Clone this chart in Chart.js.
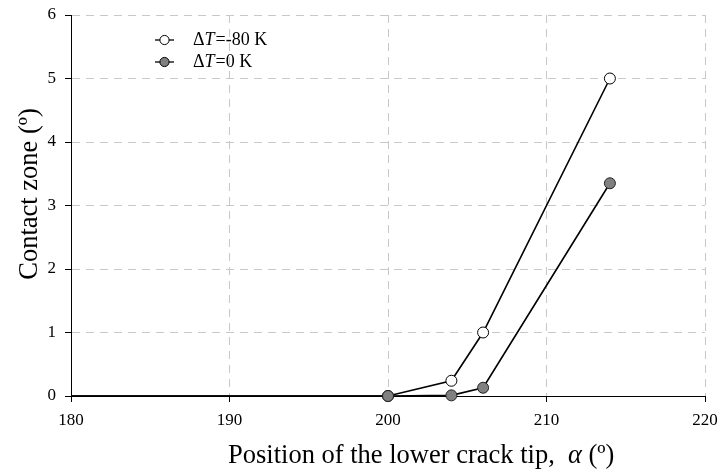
<!DOCTYPE html>
<html><head><meta charset="utf-8">
<script src="https://cdn.jsdelivr.net/npm/chart.js@4/dist/chart.umd.min.js"></script>
<style>html,body{margin:0;padding:0;background:#fff}#wrap{width:718px;height:471px}</style>
</head><body><div id="wrap"><canvas id="c" width="718" height="471"></canvas></div>
<script>
const positions = [180, 200, 204, 206, 214];
const contactMinus80 = [0, 0, 0.24, 1.0, 5.0];
const contact0 = [0, 0, 0.01, 0.13, 3.35];
const seriesLabels = ['-80 K', '0 K'];
const xTicks = [180, 190, 200, 210, 220];
const yTicks = [0, 1, 2, 3, 4, 5, 6];
const FONT = '"Liberation Serif", "Times New Roman", serif';

function pts(vals){ return positions.map((x,i)=>({x:x,y:vals[i]})); }
const hideFirst = ctx => (ctx.raw && ctx.raw.x < 200) ? 0 : 5.5;

const overlay = {
  id:'overlay',
  afterDraw(chart){
    const ctx = chart.ctx;
    ctx.save();
    const items = [
      {lbl: seriesLabels[0], fill:'#ffffff', y:40},
      {lbl: seriesLabels[1], fill:'#808080', y:62}
    ];
    items.forEach(it=>{
      ctx.strokeStyle='#000'; ctx.lineWidth=1.3;
      ctx.beginPath(); ctx.moveTo(155,it.y); ctx.lineTo(174,it.y); ctx.stroke();
      ctx.beginPath(); ctx.arc(164.5,it.y,4.6,0,Math.PI*2);
      ctx.fillStyle=it.fill; ctx.fill(); ctx.lineWidth=1; ctx.stroke();
      ctx.fillStyle='#000'; ctx.textBaseline='middle'; ctx.textAlign='left';
      let x=193;
      ctx.font='18px '+FONT; ctx.fillText('\u0394',x,it.y); x+=ctx.measureText('\u0394').width;
      ctx.font='italic 18px '+FONT; ctx.fillText('T',x,it.y); x+=ctx.measureText('T').width+1;
      ctx.font='18px '+FONT; ctx.fillText('='+it.lbl,x,it.y);
    });
    const parts=[['Position of the lower crack tip,  ',''],['\u03B1','italic '],[' (\u00BA)','']];
    let x=228;
    ctx.textBaseline='alphabetic'; ctx.textAlign='left';
    parts.forEach(p=>{ctx.font=p[1]+'26.5px '+FONT; ctx.fillText(p[0],x,463); x+=ctx.measureText(p[0]).width;});
    ctx.translate(37,194); ctx.rotate(-Math.PI/2);
    ctx.font='26.5px '+FONT; ctx.textAlign='center'; ctx.textBaseline='alphabetic';
    ctx.fillText('Contact zone (\u00BA)',0,0);
    ctx.restore();
  }
};

new Chart(document.getElementById('c'), {
  type:'scatter',
  data:{datasets:[
    {label:'\u0394T='+seriesLabels[0], data:pts(contactMinus80), showLine:true, borderColor:'#000', borderWidth:1.6,
     pointRadius:hideFirst, pointBackgroundColor:'#fff', pointBorderColor:'#000', pointBorderWidth:1, order:1, clip:false},
    {label:'\u0394T='+seriesLabels[1], data:pts(contact0), showLine:true, borderColor:'#000', borderWidth:1.6,
     pointRadius:hideFirst, pointBackgroundColor:'#808080', pointBorderColor:'#222', pointBorderWidth:1, order:0, clip:false}
  ]},
  options:{
    responsive:false, animation:false, devicePixelRatio:1,
    layout:{padding:{top:15,right:13,left:0,bottom:0}},
    plugins:{legend:{display:false},tooltip:{enabled:false}},
    scales:{
      x:{type:'linear', min:180, max:220,
        afterBuildTicks(s){ s.ticks = xTicks.map(v=>({value:v})); },
        afterFit(s){ s.height = 75; s.paddingLeft = 0; s.paddingRight = 0; },
        grid:{color:'#c8c8c8', lineWidth:1, tickColor:'#000', tickLength:6, tickBorderDash:[], tickWidth:1},
        border:{color:'#000', width:1, dash:[8,6]},
        ticks:{color:'#000', font:{family:FONT,size:17}, padding:8, maxRotation:0}
      },
      y:{min:0, max:6,
        afterBuildTicks(s){ s.ticks = yTicks.map(v=>({value:v})); },
        afterFit(s){ s.width = 71; s.paddingTop = 0; s.paddingBottom = 0; },
        grid:{color:'#c8c8c8', lineWidth:1, tickColor:'#000', tickLength:6, tickBorderDash:[], tickWidth:1},
        border:{color:'#000', width:1, dash:[8,6]},
        ticks:{color:'#000', font:{family:FONT,size:17}, padding:9}
      }
    }
  },
  plugins:[overlay]
});
</script></body></html>
